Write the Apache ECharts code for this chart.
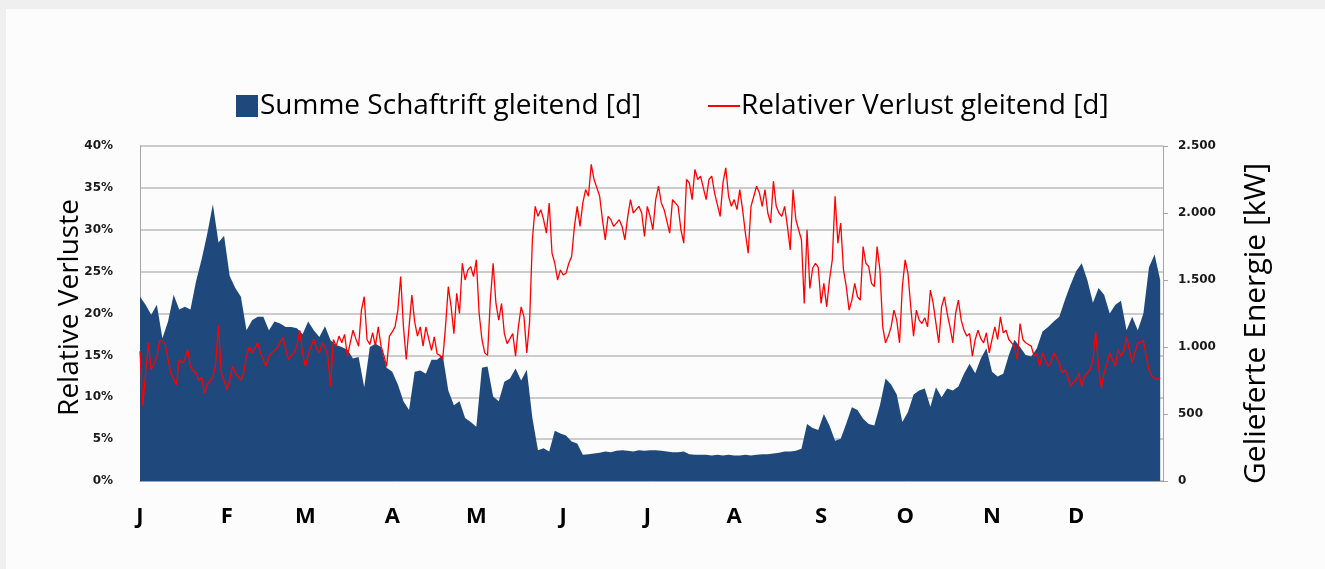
<!DOCTYPE html>
<html>
<head>
<meta charset="utf-8">
<script src="https://cdn.jsdelivr.net/npm/echarts@6/dist/echarts.min.js"></script>
<style>
html, body { margin: 0; padding: 0; background: #efefef; }
#chart { position: absolute; left: 6px; top: 9px; width: 1319px; height: 560px; background: #fcfcfc; }
</style>
</head>
<body>
<div id="chart"></div>
<script>
const schaftrift = [
  1375, 1315, 1240, 1315, 1065, 1190, 1390, 1280, 1300, 1280, 1490, 1655, 1845, 2065, 1780, 1830,
  1530, 1440, 1375, 1125, 1200, 1225, 1225, 1125, 1190, 1175, 1150, 1150, 1140, 1095, 1190,
  1125, 1075, 1155, 1050, 1015, 1000, 980, 915, 925, 700, 1000, 1025, 1000, 845, 815, 720,
  595, 530, 815, 825, 800, 905, 905, 940, 675, 565, 595, 470, 440, 405,
  845, 855, 630, 595, 740, 765, 840, 750, 830, 470, 230, 245, 220, 375, 355, 340,
  295, 280, 195, 200, 205, 210, 220, 215, 225, 230, 225, 220, 230, 225, 230,
  230, 225, 220, 215, 215, 220, 200, 195, 195, 195, 190, 195, 190, 195, 190,
  190, 195, 190, 195, 200, 200, 205, 210, 220, 220, 225, 240, 425, 395, 380,
  500, 415, 300, 315, 430, 550, 530, 465, 425, 415, 565, 765, 720, 645, 440,
  515, 645, 675, 690, 555, 700, 625, 690, 675, 705, 800, 875, 805, 915, 990,
  815, 780, 800, 940, 1055, 1000, 940, 930, 990, 1115, 1150, 1190, 1225, 1350, 1465, 1565,
  1625, 1500, 1330, 1440, 1390, 1250, 1315, 1345, 1125, 1225, 1125, 1250, 1595, 1690, 1500
];
const verlust = [
  15.5, 9.0, 12.9, 16.5, 13.3, 14.0, 14.8, 16.8, 16.6, 16.4,
  14.5, 12.9, 12.2, 11.5, 14.5, 14.1, 14.5, 15.7, 13.7, 13.2,
  12.9, 12.0, 12.4, 10.5, 11.5, 12.0, 12.4, 14.0, 18.6, 12.9,
  12.0, 10.9, 12.0, 13.7, 12.9, 12.5, 12.0, 12.9, 14.9, 16.0,
  15.3, 15.8, 16.5, 15.3, 14.5, 13.7, 14.9, 15.3, 15.6, 15.9,
  16.5, 17.2, 15.7, 14.5, 15.0, 15.3, 16.1, 18.0, 15.3, 13.7,
  15.0, 16.0, 16.9, 15.8, 15.3, 16.5, 16.0, 14.9, 11.3, 16.9,
  16.1, 17.3, 16.5, 17.5, 14.9, 16.5, 18.0, 17.0, 16.1, 20.4,
  22.0, 16.9, 16.3, 17.7, 16.1, 18.4, 16.1, 15.0, 13.7, 17.3,
  17.8, 18.4, 20.4, 24.4, 18.4, 14.5, 18.4, 22.2, 19.0, 17.3,
  18.4, 16.1, 18.4, 17.0, 15.6, 17.2, 15.2, 15.0, 14.5, 18.4,
  23.2, 20.8, 17.6, 22.4, 20.0, 26.0, 24.0, 25.2, 25.6, 24.4,
  26.4, 20.0, 16.9, 15.3, 15.0, 21.6, 26.0, 21.2, 19.2, 21.2,
  17.6, 16.4, 17.0, 17.6, 14.9, 18.4, 20.8, 19.6, 15.3, 19.0,
  28.8, 32.8, 31.6, 32.4, 31.2, 29.6, 33.2, 27.2, 26.0, 24.0,
  25.2, 24.6, 24.8, 26.0, 26.8, 30.4, 32.8, 30.4, 33.2, 34.8,
  34.0, 37.8, 36.0, 35.0, 34.0, 31.2, 28.8, 31.6, 31.2, 30.4,
  30.8, 31.2, 30.4, 28.8, 31.5, 33.6, 32.0, 32.4, 32.8, 32.0,
  29.2, 32.8, 31.6, 30.0, 33.6, 35.2, 33.2, 32.4, 31.0, 29.6,
  33.6, 33.2, 32.8, 30.0, 28.4, 36.0, 35.6, 33.6, 37.2, 36.0,
  36.4, 35.0, 33.6, 36.0, 36.4, 34.4, 33.0, 31.6, 35.6, 37.4,
  34.0, 32.8, 33.6, 32.4, 34.8, 32.4, 29.6, 27.2, 32.8, 34.0,
  35.2, 34.4, 32.8, 34.8, 32.0, 30.8, 35.8, 32.8, 32.0, 31.6,
  32.8, 30.4, 27.6, 34.8, 31.2, 30.0, 28.8, 21.2, 30.0, 23.0,
  25.4, 26.0, 25.5, 21.2, 23.6, 20.8, 24.0, 26.4, 34.0, 28.4,
  30.8, 25.2, 23.2, 20.4, 21.6, 23.6, 22.0, 21.6, 28.0, 26.0,
  25.6, 23.6, 23.2, 28.0, 25.2, 18.4, 16.5, 17.3, 18.4, 20.4,
  19.2, 16.5, 23.2, 26.4, 24.8, 20.8, 17.3, 20.4, 19.2, 18.8,
  19.5, 18.4, 22.8, 21.2, 18.8, 16.5, 20.8, 22.0, 20.0, 18.4,
  16.5, 20.0, 21.6, 19.2, 18.0, 17.3, 17.6, 14.9, 16.9, 18.0,
  17.0, 16.5, 17.7, 15.3, 16.9, 18.4, 16.9, 19.6, 17.7, 18.0,
  16.9, 16.5, 16.1, 14.5, 18.8, 16.9, 16.5, 16.3, 16.1, 14.9,
  15.3, 13.7, 15.3, 14.5, 13.7, 14.1, 15.3, 14.8, 14.1, 12.9,
  13.3, 12.5, 11.3, 11.8, 12.1, 12.9, 11.3, 12.5, 12.9, 13.3,
  14.5, 17.8, 13.7, 11.1, 12.9, 14.0, 15.3, 14.5, 13.7, 15.7,
  14.9, 15.5, 17.2, 15.7, 14.1, 15.3, 16.5, 16.5, 16.8, 14.9,
  13.3, 12.5, 12.3, 12.1, 12.3
];
const monatsAnfang = [0, 31, 59, 90, 120, 151, 181, 212, 243, 273, 304, 334];
const monate = ['J', 'F', 'M', 'A', 'M', 'J', 'J', 'A', 'S', 'O', 'N', 'D'];

const grau = '#a6a6a6';
const schrift = 'Open Sans';

let chart = echarts.init(document.getElementById('chart'));
chart.setOption({
  animation: false,
  legend: [
    {
      left: 225, top: 78,
      itemWidth: 22, itemHeight: 22,
      selectedMode: false,
      icon: 'rect',
      data: ['Summe Schaftrift gleitend [d]'],
      textStyle: { fontFamily: schrift, fontSize: 28, color: '#000', padding: [0, 0, 0, -3] }
    },
    {
      left: 697, top: 78,
      itemWidth: 32, itemHeight: 2,
      selectedMode: false,
      icon: 'rect',
      data: ['Relativer Verlust gleitend [d]'],
      textStyle: { fontFamily: schrift, fontSize: 28, color: '#000', padding: [0, 0, 0, -4] }
    }
  ],
  grid: { left: 134, right: 162, top: 137, bottom: 88 },
  xAxis: {
    type: 'value',
    min: 0,
    max: 365,
    axisLine: { lineStyle: { color: grau } },
    axisTick: { show: false },
    splitLine: { show: false },
    axisLabel: {
      customValues: monatsAnfang,
      formatter: v => monate[monatsAnfang.indexOf(v)],
      margin: 25,
      fontFamily: schrift,
      fontWeight: 'bold',
      fontSize: 22,
      color: '#000'
    }
  },
  yAxis: [
    {
      type: 'value',
      position: 'left',
      min: 0, max: 40, interval: 5,
      name: 'Relative Verluste',
      nameLocation: 'middle',
      nameGap: 56,
      nameMoveOverlap: false,
      nameTextStyle: { fontFamily: schrift, fontSize: 28, color: '#000', padding: [0, 0, 0, 12] },
      axisLine: { show: true, lineStyle: { color: grau } },
      axisTick: { show: false },
      splitLine: { lineStyle: { color: '#bdbdbd', width: 1.5 } },
      axisLabel: {
        formatter: '{value}%',
        margin: 27,
        fontFamily: 'DejaVu Sans',
        fontWeight: 'bold',
        fontSize: 12,
        color: '#1a1a1a'
      }
    },
    {
      type: 'value',
      position: 'right',
      min: 0, max: 2500, interval: 500,
      name: 'Gelieferte Energie [kW]',
      nameLocation: 'middle',
      nameGap: 78,
      nameTextStyle: { fontFamily: schrift, fontSize: 30, color: '#000', padding: [0, 20, 0, 0] },
      axisLine: { show: true, lineStyle: { color: grau } },
      axisTick: { show: true, length: 5, lineStyle: { color: grau } },
      splitLine: { show: false },
      axisLabel: {
        formatter: v => String(v).replace(/\B(?=(\d{3})+(?!\d))/g, '.'),
        margin: 15,
        fontFamily: 'DejaVu Sans',
        fontWeight: 'bold',
        fontSize: 12,
        color: '#1a1a1a'
      }
    }
  ],
  series: [
    {
      name: 'Summe Schaftrift gleitend [d]',
      type: 'line',
      yAxisIndex: 1,
      symbol: 'none',
      data: schaftrift.map((v, i) => [i * 2, v]),
      lineStyle: { width: 0 },
      itemStyle: { color: '#1f497d' },
      areaStyle: { color: '#1f497d', opacity: 1 }
    },
    {
      name: 'Relativer Verlust gleitend [d]',
      type: 'line',
      yAxisIndex: 0,
      symbol: 'none',
      data: verlust.map((v, i) => [i, v]),
      lineStyle: { color: '#ff0000', width: 1.3 },
      itemStyle: { color: '#ff0000' }
    }
  ]
});
</script>
</body>
</html>
